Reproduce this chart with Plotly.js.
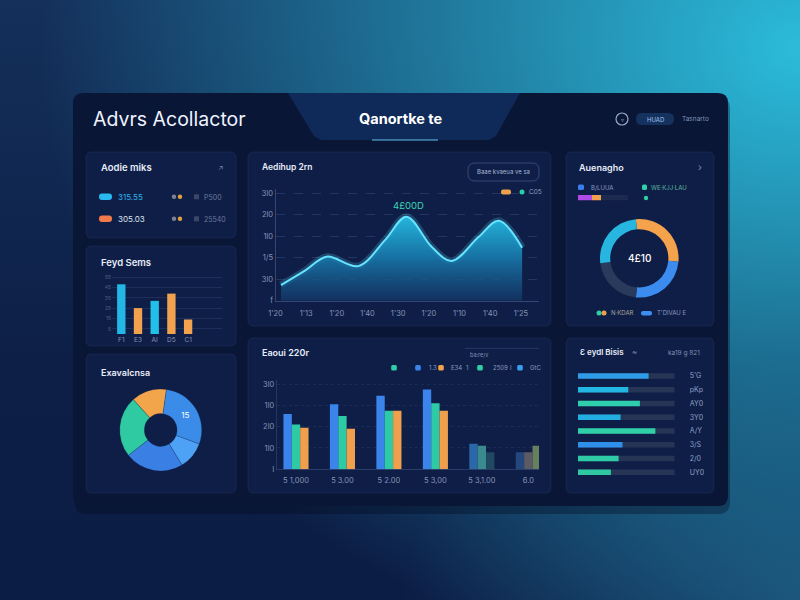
<!DOCTYPE html>
<html><head><meta charset="utf-8">
<script src="https://cdn.plot.ly/plotly-3.0.1.min.js"></script>
<style>
html,body{margin:0;padding:0;width:800px;height:600px;overflow:hidden;}
body{background:
 radial-gradient(ellipse 95% 105% at 100% 8%, rgba(44,192,222,0.97) 0%, rgba(44,192,222,0) 100%),
 radial-gradient(ellipse 50% 40% at 100% 100%, rgba(34,100,140,0.6) 0%, rgba(34,100,140,0) 100%),
 linear-gradient(180deg, #14305b 0%, #0d1f46 60%, #0c1d45 100%);}
#chart{width:800px;height:600px;}
</style></head><body><div id="chart"></div><script>
// ---------------- data ----------------
const miniCats = ['F1', 'E3', 'AI', 'D5', 'C1'];
const miniValues = [48, 25, 32, 39, 14];
const miniTickVals = [5, 15, 25, 35, 45, 55];
const miniTickText = ['5', '15', '25', '35', '45', '55'];

const areaTickText = ["1'20", "1'13", "1'20", "1'40", "1'30", "1'20", "1'10", "1'40", "1'25"];
const areaX = [0.18, 0.96, 1.67, 2.70, 3.57, 4.27, 5.09, 5.74, 6.61, 7.28, 8.04];
const areaY = [7.3, 14.0, 20.5, 16.1, 28.2, 39.1, 25.1, 18.5, 29.5, 37.2, 24.7];
const areaYTickVals = [0, 10, 20, 30, 40, 50];
const areaYTickText = ['f', '3l0', '1/5', '1l0', '2l0', '3l0'];

const groupCats = ['5 1,000', '5 3.00', '5 2.00', '5 3,00', '5 3,1.00', '6.0'];
const groupBlue = [26, 30.5, 34.5, 37.5, 12, 8];
const groupTeal = [21, 25, 27.5, 31, 11, 8];
const groupOrange = [19.5, 19, 27.5, 27.5, 8, 11];
const groupYTickVals = [0, 10, 20, 30, 40];
const groupYTickText = ['I', '1l0', '2l0', '1l0', '3l0'];

const hbarLabels = ["5'G", 'pKp', 'AY0', '3Y0', 'A/Y', '3/S', '2/0', 'UY0'];
const hbarValues = [73, 52, 64, 44, 80, 46, 42, 34];
const hbarMax = 100;

const progressParts = [28, 18, 54];

const donutLeftLabels = ['A', 'B', 'C', 'D', 'E'];
const donutLeftValues = [13.9, 28.3, 10.8, 23.1, 23.9];
const donutLeftText = ['', '15', '', '', ''];

const donutRightLabels = ['A', 'B', 'C', 'D'];
const donutRightValues = [27.8, 25, 21.7, 25.6];

// ---------------- styles ----------------
const C = {cyan:'#22b8e6', teal:'#2ecfa8', orange:'#f2a24e', blue:'#3a84ec', purple:'#b04ae8',
  panel:'#0f1e46', dash:'#0a1636', text:'#e6ecf8', muted:'#8a9ac0', grid:'rgba(110,140,200,0.22)'};
const miniColors = [C.cyan, C.orange, '#22c0e8', C.orange, C.orange];
const blueColors = ['#3a84ec','#3a84ec','#3a84ec','#3a84ec','#2b68aa','#24487e'];
const tealColors = ['#2ecaa6','#2ecaa6','#2ecaa6','#2ecaa6','#3a8a8e','#5c5a64'];
const orangeColors = ['#f0a04c','#f0a04c','#f0a04c','#f0a04c','#1f4a62','#66805e'];
const hbarColors = ['#2e9ce6','#22b6e2','#2fcfae','#22aee2','#2fd0a8','#2f90ea','#2fcaa6','#2fc8a2'];

const W = 800, H = 600;
const X = px => px / W;
const Y = py => 1 - py / H;

function rr(x0, y0, x1, y1, r) {
  const rx = r / W, ry = r / H;
  const a = X(x0), b = X(x1), t = Y(y0), u = Y(y1);
  return `M${a+rx},${t} L${b-rx},${t} Q${b},${t} ${b},${t-ry} L${b},${u+ry} Q${b},${u} ${b-rx},${u} L${a+rx},${u} Q${a},${u} ${a},${u+ry} L${a},${t-ry} Q${a},${t} ${a+rx},${t} Z`;
}
function rect(x0, y0, x1, y1, r, fill, line, lw, layer) {
  return {type:'path', xref:'paper', yref:'paper', path: rr(x0,y0,x1,y1,r), fillcolor: fill,
    line:{color: line || 'rgba(0,0,0,0)', width: lw || 0}, layer: layer || 'above'};
}
function circ(cx, cy, r, fill, line, lw) {
  return {type:'circle', xref:'paper', yref:'paper', x0:X(cx-r), x1:X(cx+r), y0:Y(cy+r), y1:Y(cy-r),
    fillcolor: fill, line:{color: line || 'rgba(0,0,0,0)', width: lw || 0}};
}
function poly(pts, fill, layer) {
  const p = pts.map((q, i) => (i ? 'L' : 'M') + X(q[0]) + ',' + Y(q[1])).join(' ') + ' Z';
  return {type:'path', xref:'paper', yref:'paper', path:p, fillcolor:fill, line:{width:0}, layer: layer || 'above'};
}
function txt(text, x, y, size, color, opts) {
  opts = opts || {};
  return {text, x:X(x), y:Y(y), xref:'paper', yref:'paper', xanchor: opts.anchor || 'left', yanchor:'middle',
    showarrow:false, font:{size, color, family: opts.family || 'Inter, sans-serif', weight: opts.weight || 400}};
}

// ---------------- traces ----------------
const traces = [];
traces.push({type:'bar', x: miniCats, y: miniValues, xaxis:'x', yaxis:'y', width:0.5, offset:-0.25,
  marker:{color: miniColors, line:{width:0}}, hoverinfo:'skip'});

traces.push({type:'scatter', mode:'lines', x: areaX, y: areaY, xaxis:'x2', yaxis:'y2',
  line:{shape:'spline', smoothing:1, color:'rgba(90,220,255,0.22)', width:7}, hoverinfo:'skip'});
traces.push({type:'scatter', mode:'lines', x: areaX, y: areaY, xaxis:'x2', yaxis:'y2', fill:'tozeroy',
  fillgradient:{type:'vertical', colorscale:[[0,'rgba(20,58,108,0.7)'],[0.55,'rgba(24,128,178,0.9)'],[1,'rgba(36,182,220,1)']]},
  line:{shape:'spline', smoothing:1, color:'#66e4ff', width:2}, hoverinfo:'skip'});

const gx = groupCats.map((_, i) => i);
traces.push({type:'bar', x: gx, y: groupBlue, xaxis:'x3', yaxis:'y3', marker:{color: blueColors}, hoverinfo:'skip'});
traces.push({type:'bar', x: gx, y: groupTeal, xaxis:'x3', yaxis:'y3', marker:{color: tealColors}, hoverinfo:'skip'});
traces.push({type:'bar', x: gx, y: groupOrange, xaxis:'x3', yaxis:'y3', marker:{color: orangeColors}, hoverinfo:'skip'});

const hy = hbarLabels.map((_, i) => i);
traces.push({type:'bar', orientation:'h', y: hy, x: hy.map(() => hbarMax), xaxis:'x4', yaxis:'y4',
  width:0.4, offset:-0.2, marker:{color:'#263456'}, hoverinfo:'skip'});
traces.push({type:'bar', orientation:'h', y: hy, x: hbarValues, xaxis:'x4', yaxis:'y4',
  width:0.4, offset:-0.2, marker:{color: hbarColors}, hoverinfo:'skip'});

const progColors = [C.purple, C.orange, '#1d2a50'];
let acc = 0;
progressParts.forEach((v, i) => {
  traces.push({type:'bar', orientation:'h', y:[0], x:[v], base:[acc], xaxis:'x5', yaxis:'y5', width:1, offset:-0.5,
    marker:{color: progColors[i]}, hoverinfo:'skip'});
  acc += v;
});

traces.push({type:'pie', labels: donutLeftLabels, values: donutLeftValues, text: donutLeftText, textinfo:'text',
  textposition:'inside', insidetextorientation:'horizontal', textfont:{size:8, color:'#ffffff'},
  hole:0.4, sort:false, direction:'clockwise', rotation:318,
  marker:{colors:['#f3a54c','#3a8ce8','#4ea2f6','#3a80e4','#2fcaa2'], line:{color:'rgba(15,30,70,0.4)', width:0.6}},
  domain:{x:[X(119.7), X(201.7)], y:[Y(471), Y(389)]}, hoverinfo:'skip'});

traces.push({type:'pie', labels: donutRightLabels, values: donutRightValues, textinfo:'none',
  hole:0.74, sort:false, direction:'clockwise', rotation:355,
  marker:{colors:['#f4a24c','#3c8cf0','#2a3a5c','#27b6e0'], line:{width:0}},
  domain:{x:[X(600), X(678.6)], y:[Y(297.6), Y(219)]}, hoverinfo:'skip'});

// ---------------- shapes ----------------
const shapes = [];
shapes.push(rect(75, 97, 730, 514, 12, 'rgba(4,10,30,0.35)', null, 0, 'below'));
shapes.push(rect(73, 93, 728, 506, 10, C.dash, null, 0, 'below'));
shapes.push(poly([[288,93],[520,93],[496,136],[489,140],[321,140],[314,136]], '#0f2a58', 'below'));
[[86,152,236,238],[86,246,236,346],[86,354,236,493],[248,152,551,326],[248,338,551,493],[566,152,714,326],[566,338,714,493]]
  .forEach(p => shapes.push(rect(p[0], p[1], p[2], p[3], 6, C.panel, 'rgba(90,120,190,0.14)', 1, 'below')));
shapes.push({type:'line', xref:'paper', yref:'paper', x0:X(372), x1:X(438), y0:Y(140), y1:Y(140), line:{color:'rgba(110,210,255,0.6)', width:1.5}});
// header widgets
shapes.push(circ(622, 119, 6, 'rgba(0,0,0,0)', '#9aa8c8', 1.2));
shapes.push(rect(636, 113, 674, 125, 6, '#15315e'));
// panel 1 rows
shapes.push(rect(99, 193.5, 112, 200, 3, '#27b9ef'));
shapes.push(rect(99, 215.5, 112, 222, 3, '#f07a4a'));
[196.7, 218.8].forEach(y => {
  shapes.push(circ(174, y, 2.2, '#7d8294'));
  shapes.push(circ(180, y, 2.2, '#e2a040'));
  shapes.push(rect(194, y - 2.5, 199, y + 2.5, 0.5, '#3a4668'));
});
// area panel widgets
shapes.push(rect(468, 163, 539, 181, 7, 'rgba(0,0,0,0)', 'rgba(120,150,210,0.35)', 1));
shapes.push(rect(501, 189.5, 511, 194.5, 2, '#f0a24a'));
shapes.push(circ(522, 192, 2.5, '#2ecfa6'));
// grouped bar legend
shapes.push({type:'line', xref:'paper', yref:'paper', x0:X(465), x1:X(539), y0:Y(348.3), y1:Y(348.3), line:{color:'rgba(120,150,210,0.22)', width:1}});
[[394,C.teal],[418,C.blue],[441,C.orange],[480,C.teal],[520,'#3a9ef0']].forEach(q =>
  shapes.push(rect(q[0]-2.8, 365, q[0]+2.8, 370.5, 1.5, q[1])));
// donut panel legend
shapes.push(rect(578, 184.5, 584, 190, 1.5, '#3b7de8'));
shapes.push(rect(642, 184.5, 647, 190, 1.5, '#2ecfa6'));
shapes.push(circ(646, 198, 2.2, '#2ecfa6'));
shapes.push(circ(599, 313, 2.5, '#2ecfa6'));
shapes.push(circ(604, 313, 2.5, '#e9a24a'));
shapes.push(rect(641, 311, 652, 315.5, 2, '#3b8ff0'));

// ---------------- annotations ----------------
const ann = [
  txt('Advrs Acollactor', 91, 118.5, 19.5, '#eef3ff', {weight:400}),
  txt('Qanortke te', 400, 118.5, 14.5, '#ffffff', {anchor:'center', weight:700}),
  txt('▿', 622, 119, 6, '#9aa8c8', {anchor:'center'}),
  txt('HUAD', 655, 119.2, 6, '#9fc3f0', {anchor:'center'}),
  txt('Tasnarto', 680, 119, 6.5, '#8193b8'),
  txt('Aodie miks', 99, 167.3, 9.5, C.text, {weight:600}),
  txt('↗', 220.5, 167.5, 7, '#8090b0', {anchor:'center'}),
  txt('315.55', 115.5, 197, 8, '#2cb6ea'),
  txt('P500', 202, 197, 7, '#6b7a9c'),
  txt('305.03', 115.5, 219, 8, '#dde4f2'),
  txt('25540', 202, 219, 7, '#6b7a9c'),
  txt('Feyd Sems', 99, 262.3, 9.5, C.text, {weight:600}),
  txt('Exavalcnsa', 99, 372.7, 9, C.text, {weight:600}),
  txt('Aedihup 2rn', 260, 167.3, 8.5, C.text, {weight:600}),
  txt('Baae kvaeua ve sa', 503.5, 172, 6, '#a8b8d8', {anchor:'center'}),
  txt('C05', 527, 192, 6.5, C.muted),
  txt('4£00D', 408, 205, 9.5, '#3ad6b4', {anchor:'center'}),
  txt('Eaoui 220r', 260, 352.3, 9, C.text, {weight:600}),
  txt('ba:re/v', 468, 355, 5.5, '#8090b8'),
  txt('1.3', 427, 367.7, 6, C.muted),
  txt('E34', 449, 367.7, 6, C.muted),
  txt('1', 464, 367.7, 6, C.muted),
  txt('2509', 491, 367.7, 6, C.muted),
  txt('I', 508, 367.7, 6, C.muted),
  txt('GtC', 528, 367.7, 6, C.muted),
  txt('Auenagho', 577, 167.7, 9, C.text, {weight:600}),
  txt('›', 700, 167, 10, '#8090b0', {anchor:'center'}),
  txt('B/LUUA', 589, 187, 6, C.muted),
  txt('WE·KJJ·LAU', 649, 187, 6, '#5fb8a0'),
  txt('4£10', 639.3, 258.3, 10, '#ffffff', {anchor:'center', weight:500}),
  txt('N·KDAR', 609, 313, 6, '#a9a69a'),
  txt("T'DIVAU E", 655, 313, 6, C.muted),
  txt('Ɛ eydl Bisis', 578, 352, 8, C.text, {weight:600}),
  txt('~', 630, 352, 8, '#8090b0'),
  txt('ka19 g 821', 666, 353.5, 6.5, '#7f90b8'),
];

// ---------------- layout ----------------
const tickFont = s => ({size: s, color:'#8494b8', family:'Inter, sans-serif'});
const layout = {
  width: W, height: H, margin:{l:0, r:0, t:0, b:0},
  paper_bgcolor:'rgba(0,0,0,0)', plot_bgcolor:'rgba(0,0,0,0)',
  showlegend:false, hovermode:false, barmode:'group', bargap:0.46, bargroupgap:0,
  font:{family:'Inter, sans-serif', color: C.text},
  xaxis:{domain:[X(112), X(222)], anchor:'y', type:'category', range:[-0.557, 6.03], showgrid:false, zeroline:false,
    showline:false, ticks:'', tickfont: tickFont(6.5), fixedrange:true},
  yaxis:{domain:[Y(334), Y(276)], anchor:'x', range:[0, 56], tickvals: miniTickVals, ticktext: miniTickText,
    showgrid:true, gridcolor:'rgba(110,140,200,0.15)', zeroline:false, ticks:'', tickfont:{size:5, color:'rgba(140,160,205,0.5)'}},
  xaxis2:{domain:[X(275.5), X(539)], anchor:'y2', range:[0, 8.59], tickvals: areaTickText.map((_, i) => i), ticktext: areaTickText,
    showgrid:false, zeroline:false, showline:true, linecolor:'rgba(120,150,210,0.35)', ticks:'', ticklabelstandoff:5, tickfont: tickFont(7.5)},
  yaxis2:{domain:[Y(300.7), Y(189)], anchor:'x2', range:[0, 52], tickvals: areaYTickVals, ticktext: areaYTickText,
    showgrid:true, gridcolor: C.grid, griddash:'dash', zeroline:false, showline:true, linecolor:'rgba(120,150,210,0.35)',
    ticks:'', tickfont: tickFont(7.5)},
  xaxis3:{domain:[X(276.7), X(539)], anchor:'y3', range:[-0.415, 5.23], tickvals: gx, ticktext: groupCats,
    showgrid:false, zeroline:false, showline:true, linecolor:'rgba(120,150,210,0.25)', ticks:'', ticklabelstandoff:4, tickfont: tickFont(7.5)},
  yaxis3:{domain:[Y(469.3), Y(379.8)], anchor:'x3', range:[0, 42], tickvals: groupYTickVals, ticktext: groupYTickText,
    showgrid:true, gridcolor:'rgba(110,140,200,0.12)', griddash:'dot', zeroline:false, showline:true, linecolor:'rgba(120,150,210,0.2)',
    ticks:'', tickfont: tickFont(7.5)},
  xaxis4:{domain:[X(578), X(674.7)], anchor:'y4', range:[0, hbarMax], visible:false},
  yaxis4:{domain:[Y(479.2), Y(369.1)], anchor:'x4', side:'right', range:[7.5, -0.5], tickvals: hy, ticktext: hbarLabels,
    showgrid:false, zeroline:false, showline:false, ticks:'', ticklabelstandoff:14, tickfont:{size:7, color:'#8da0c8'}},
  xaxis5:{domain:[X(578), X(628)], anchor:'y5', range:[0, 100], visible:false},
  yaxis5:{domain:[Y(200.5), Y(195)], anchor:'x5', range:[-0.5, 0.5], visible:false},
  shapes, annotations: ann
};
Plotly.newPlot('chart', traces, layout, {staticPlot:true, displayModeBar:false});
</script></body></html>
